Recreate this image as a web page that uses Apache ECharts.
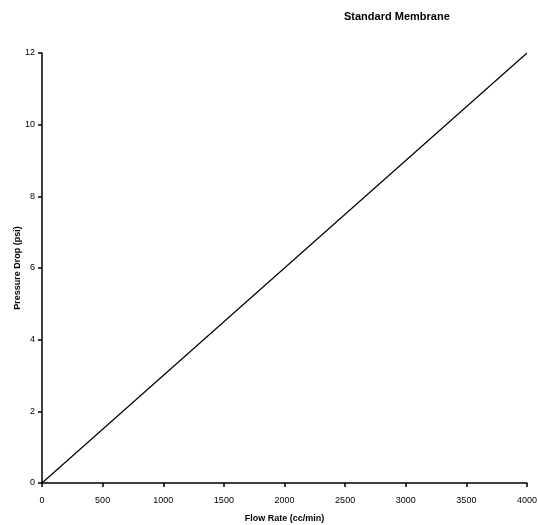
<!DOCTYPE html>
<html>
<head>
<meta charset="utf-8">
<script src="https://cdn.jsdelivr.net/npm/echarts@6/dist/echarts.min.js"></script>
<style>
html, body { margin: 0; padding: 0; background: #fff; }
#chart { width: 538px; height: 525px; }
</style>
</head>
<body>
<div id="chart"></div>
<script>
// flow rate (cc/min) vs pressure drop (psi)
const flowRate = [0, 1000, 2000, 3000, 4000]
const pressureDrop = [0, 3, 6, 9, 12]

const chart = echarts.init(document.getElementById('chart'))
const font = 'Liberation Sans, Arial, sans-serif'

chart.setOption({
  animation: false,
  title: {
    text: 'Standard Membrane',
    left: 339,
    top: 6,
    textStyle: { fontFamily: font, fontSize: 11, fontWeight: 'bold', color: '#000' }
  },
  grid: { left: 42, right: 11, top: 53, bottom: 42, outerBoundsMode: 'none' },
  xAxis: {
    type: 'value',
    min: 0,
    max: 4000,
    interval: 500,
    name: 'Flow Rate (cc/min)',
    nameLocation: 'middle',
    nameGap: 31,
    nameMoveOverlap: false,
    nameTextStyle: { fontFamily: font, fontSize: 9, fontWeight: 'bold', color: '#000' },
    splitLine: { show: false },
    axisLine: { lineStyle: { color: '#000', width: 1.5 } },
    axisTick: { length: 4, lineStyle: { color: '#000', width: 1.5 } },
    axisLabel: {
      fontFamily: font, fontSize: 9, color: '#000', margin: 13,
      formatter: v => String(v)
    }
  },
  yAxis: {
    type: 'value',
    min: 0,
    max: 12,
    interval: 2,
    name: 'Pressure Drop (psi)',
    nameLocation: 'middle',
    nameGap: 20,
    nameMoveOverlap: false,
    nameTextStyle: { fontFamily: font, fontSize: 9, fontWeight: 'bold', color: '#000' },
    splitLine: { show: false },
    axisLine: { lineStyle: { color: '#000', width: 1.5 } },
    axisTick: { length: 4, lineStyle: { color: '#000', width: 1.5 } },
    axisLabel: { fontFamily: font, fontSize: 9, color: '#000', margin: 7 }
  },
  series: [
    {
      type: 'line',
      data: flowRate.map((f, i) => [f, pressureDrop[i]]),
      showSymbol: false,
      lineStyle: { color: '#000', width: 1.2 }
    }
  ]
})
</script>
</body>
</html>
